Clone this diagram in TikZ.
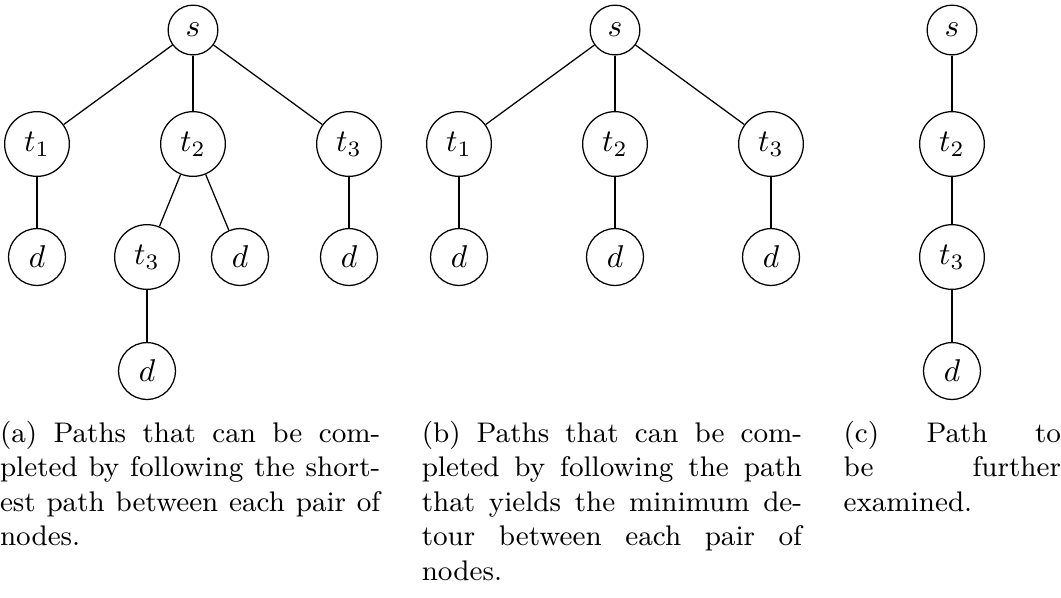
\documentclass[tikz,border=0pt]{standalone}
\begin{document}
\begin{tikzpicture}[x=0.31746pt, y=-0.31746pt,
  vertex/.style={circle, draw, line width=0.4pt, inner sep=3.333pt},
  edge/.style={line width=0.4pt},
  captext/.style={anchor=base west, inner sep=0pt, outer sep=0pt,
                  align=justify, font=\small}]
\useasboundingbox (0,0) rectangle (1061,597);

% (a) shortest paths between each pair of nodes
\node[vertex] (as)   at (193,30)  {$s$};
\node[vertex] (at1)  at (37,144)  {$t_1$};
\node[vertex] (at2)  at (193,144) {$t_2$};
\node[vertex] (at3)  at (349,144) {$t_3$};
\node[vertex] (ad1)  at (37,257)  {$d$};
\node[vertex] (at3b) at (147,257) {$t_3$};
\node[vertex] (ad2)  at (240,257) {$d$};
\node[vertex] (ad3)  at (349,257) {$d$};
\node[vertex] (ad4)  at (147,371) {$d$};
\draw[edge] (as) -- (at1);
\draw[edge] (as) -- (at2);
\draw[edge] (as) -- (at3);
\draw[edge] (at1) -- (ad1);
\draw[edge] (at2) -- (at3b);
\draw[edge] (at2) -- (ad2);
\draw[edge] (at3) -- (ad3);
\draw[edge] (at3b) -- (ad4);

% (b) minimum-detour paths
\node[vertex] (bs)  at (615,30)  {$s$};
\node[vertex] (bt1) at (459,144) {$t_1$};
\node[vertex] (bt2) at (615,144) {$t_2$};
\node[vertex] (bt3) at (771,144) {$t_3$};
\node[vertex] (bd1) at (459,257) {$d$};
\node[vertex] (bd2) at (615,257) {$d$};
\node[vertex] (bd3) at (771,257) {$d$};
\draw[edge] (bs) -- (bt1);
\draw[edge] (bs) -- (bt2);
\draw[edge] (bs) -- (bt3);
\draw[edge] (bt1) -- (bd1);
\draw[edge] (bt2) -- (bd2);
\draw[edge] (bt3) -- (bd3);

% (c) path still to be examined
\node[vertex] (cs)  at (952,30)  {$s$};
\node[vertex] (ct2) at (952,144) {$t_2$};
\node[vertex] (ct3) at (952,257) {$t_3$};
\node[vertex] (cd)  at (952,371) {$d$};
\draw[edge] (cs) -- (ct2);
\draw[edge] (ct2) -- (ct3);
\draw[edge] (ct3) -- (cd);

% sub-captions
\node[captext, text width=120.75pt] (capa) at (0,442)
  {(a) Paths that can be completed by following the shortest path between each pair of nodes.};
\node[captext, text width=120.75pt] (capb) at (421.8,442)
  {(b) Paths that can be completed by following the path that yields the minimum detour between each pair of nodes.};
\node[captext, text width=69pt] (capc) at (843.6,442)
  {(c) Path to\linebreak be further\linebreak examined.};
\end{tikzpicture}
\end{document}
